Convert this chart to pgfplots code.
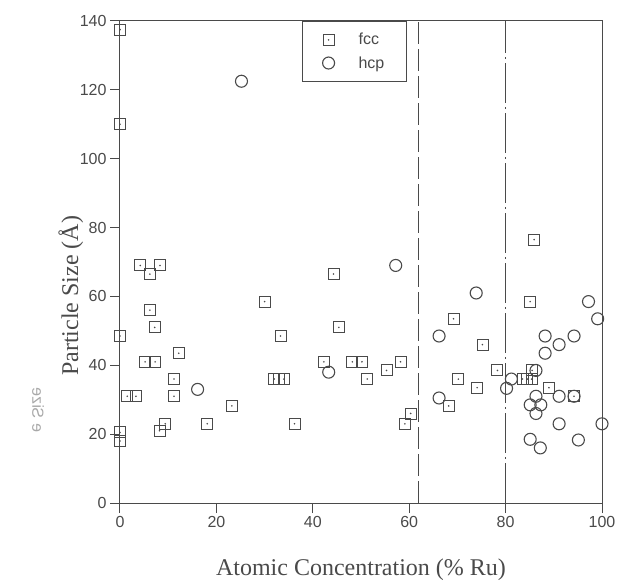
\documentclass[border=0pt]{standalone}
\usepackage{pgfplots}
\pgfplotsset{compat=1.18}
\usepackage{fontspec}
\setmainfont{Liberation Sans}
\newfontfamily\serif{Liberation Serif}
\definecolor{ink}{HTML}{4A4A4A}
\definecolor{ghost}{HTML}{A8A8A8}

% square with a dot in the middle
\pgfdeclareplotmark{sqdot}{%
  \pgfpathrectangle{\pgfpoint{-\pgfplotmarksize}{-\pgfplotmarksize}}{\pgfpoint{2\pgfplotmarksize}{2\pgfplotmarksize}}%
  \pgfusepathqstroke
  \pgfpathcircle{\pgfpointorigin}{0.9pt}%
  \pgfusepathqfill}

\begin{document}
\begin{tikzpicture}
\begin{axis}[
  scale only axis,
  width=482pt, height=482pt,
  xmin=0, xmax=100, ymin=0, ymax=140,
  xtick={0,20,...,100}, ytick={0,20,...,140},
  tick align=outside, major tick length=10pt,
  xtick pos=bottom, ytick pos=left,
  axis line style={ink, line width=1pt},
  tick style={ink, line width=1pt},
  tick label style={ink, font=\fontsize{16}{19}\selectfont},
  /pgf/number format/assume math mode=true,
  clip=false,
  xlabel={\serif Atomic Concentration (\% Ru)},
  ylabel={\serif Particle Size (Å)},
  label style={ink, font=\fontsize{24}{28}\selectfont},
  xlabel style={at={(rel axis cs:0.5,0)}, anchor=center, yshift=-67pt},
  ylabel style={at={(rel axis cs:-0.102,0.43)}, anchor=center},
  legend style={at={(axis cs:37.8,140)}, anchor=north west, draw=ink, line width=0.8pt,
    font=\fontsize{16}{18}\selectfont, text=ink, inner xsep=20pt, inner ysep=10pt,
    row sep=6pt, /tikz/every odd column/.append style={column sep=22pt}},
  legend cell align=left,
]
\addplot[only marks, mark=sqdot, mark size=5.5pt, ink, line width=0.9pt] coordinates {
  (0,137.5) (0,110) (0,48.5) (0,20.5) (0,18)
  (1.5,31) (3.3,31) (4.2,69) (5.2,41) (6.2,66.5) (6.2,56) (7.3,41) (7.2,51)
  (8.3,69) (8.2,21) (9.4,23) (11.2,36) (11.2,31) (12.2,43.5) (18.1,23)
  (23.2,28.2) (30,58.5) (32,36) (33,36) (34,36) (33.3,48.5) (36.2,23)
  (42.3,41) (44.3,66.5) (45.4,51) (48.2,41) (50.2,41) (51.3,36) (55.3,38.5)
  (58.2,41) (59.1,23) (60.3,26) (69.2,53.5) (70.2,36) (68.2,28.2) (74.1,33.5)
  (75.2,46) (78.3,38.5) (83.5,36) (84.5,36) (85.4,36) (85.5,38.5) (85.1,58.5)
  (85.9,76.5) (89,33.5) (94.2,31)
};
\addlegendentry{fcc}
\addplot[only marks, mark=o, mark size=6pt, ink, line width=1.1pt] coordinates {
  (16.1,33) (25.2,122.5) (43.3,38) (57.2,69) (66.2,48.5) (66.2,30.5) (73.9,61)
  (80.2,33.3) (81.2,36) (86.3,38.5) (88.2,48.5) (91.1,46) (94.2,48.5) (88.2,43.5)
  (97.2,58.5) (99.1,53.5) (86.3,31) (91.1,31) (94.2,31) (85.1,28.5) (87.3,28.5)
  (86.3,26) (91.1,23) (100,23) (85.1,18.5) (87.2,16) (95.1,18.3)
};
\addlegendentry{hcp}
\addplot[ink, line width=1pt, dash pattern=on 22pt off 5pt, forget plot] coordinates {(62,0) (62,140)};
\addplot[ink, line width=1pt, dash pattern=on 40pt off 4pt on 2pt off 4pt, forget plot] coordinates {(80,0) (80,140)};
\node[ghost, font=\fontsize{16}{18}\selectfont, xscale=-1, rotate=90] at (axis cs:-17,27) {e Size};
\end{axis}
\pgfresetboundingbox
\path (current axis.south west) ++(-120pt,-83pt) rectangle ++(618pt,586pt);
\end{tikzpicture}
\end{document}
